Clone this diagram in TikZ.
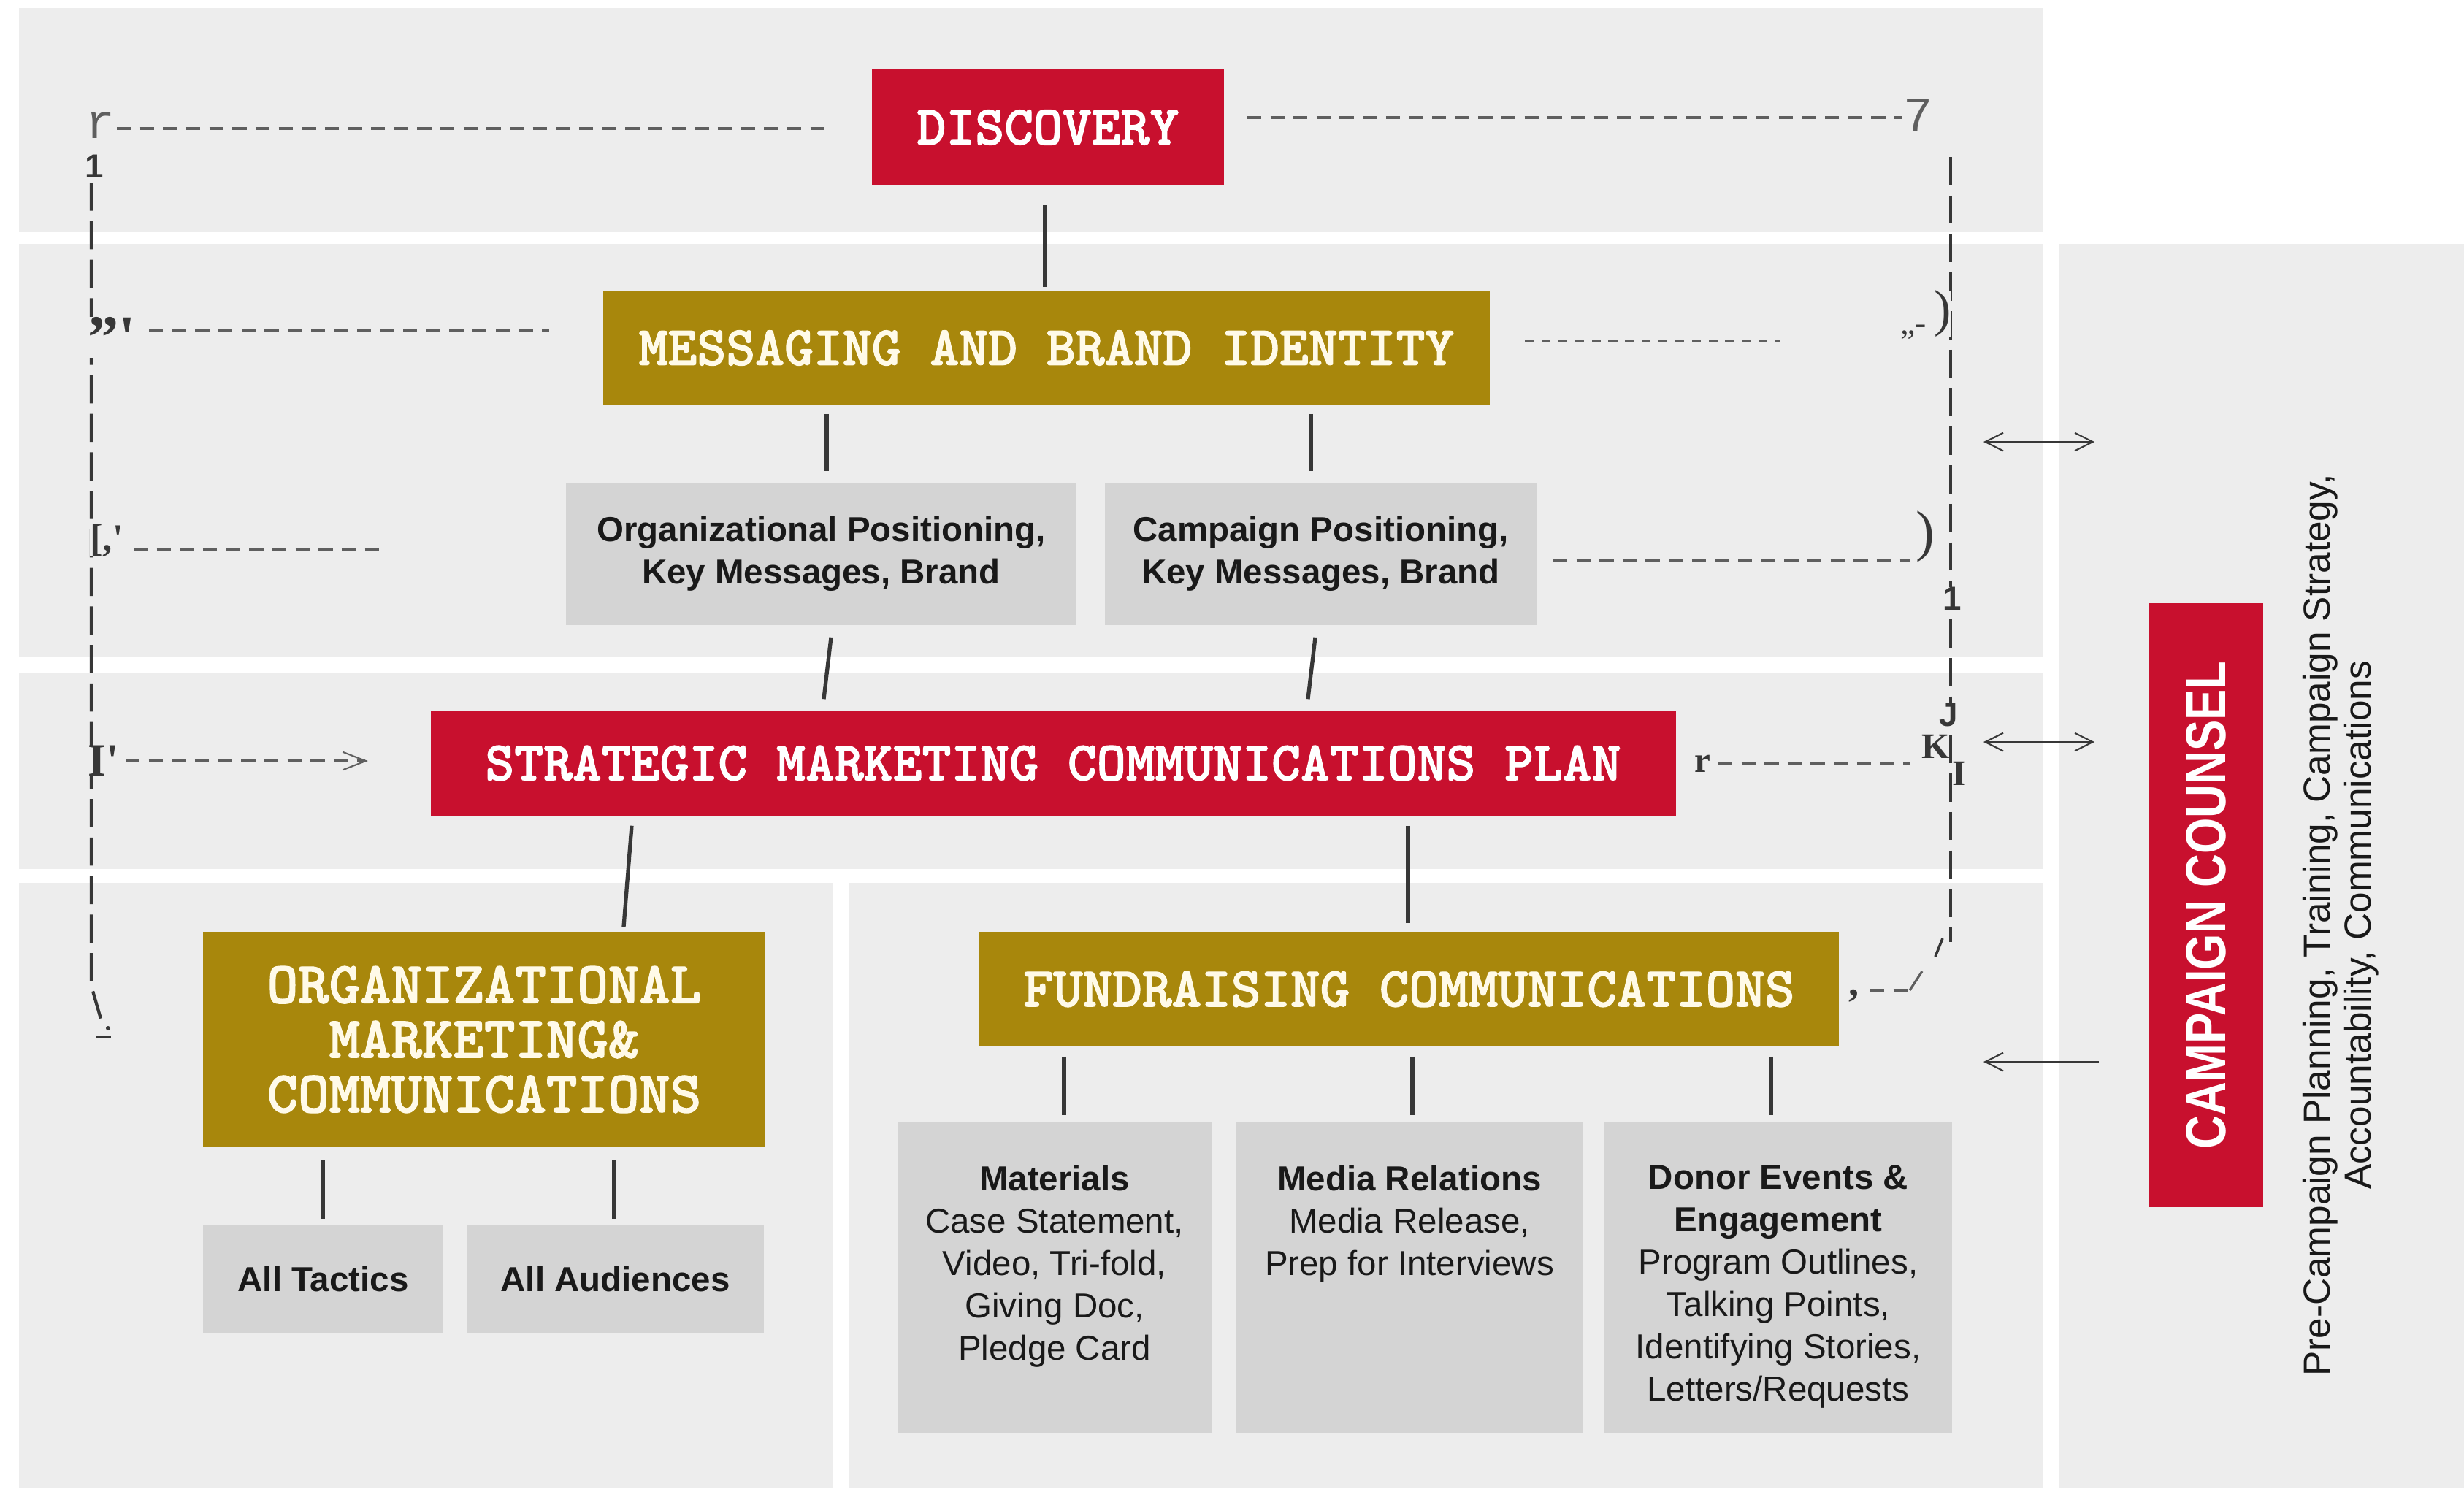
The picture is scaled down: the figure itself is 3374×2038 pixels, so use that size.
\documentclass[tikz,border=0pt]{standalone}
\usepackage{fontspec}
\usepackage{graphicx}
\setmainfont{Liberation Sans}
\newfontfamily\slabfont{lmmonolt10-bold.otf}[FakeBold=1.6]
\newfontfamily\glyphfont{Liberation Serif}
\newfontfamily\typefont{Liberation Mono}
\usetikzlibrary{arrows.meta,calc}
\definecolor{panelgray}{RGB}{237,237,237}
\definecolor{boxgray}{RGB}{212,212,212}
\definecolor{crimson}{RGB}{200,16,46}
\definecolor{ochre}{RGB}{168,135,12}
\definecolor{inkgray}{RGB}{95,95,95}
\definecolor{rulegray}{RGB}{55,55,55}
\definecolor{cream}{RGB}{255,250,232}
\begin{document}
\begin{tikzpicture}[x=0.01cm,y=-0.01cm,
  panel/.style={fill=panelgray,draw=none},
  redbox/.style={fill=crimson,draw=none,text=white,inner sep=0pt,align=center,
    font=\slabfont\fontsize{21.6}{23}\selectfont},
  goldbox/.style={fill=ochre,draw=none,text=cream,inner sep=0pt,align=center,
    font=\slabfont\fontsize{21.6}{23}\selectfont},
  graybox/.style={fill=boxgray,draw=none,inner sep=0pt,align=center,text=black!90},
  boxtext/.style={inner sep=0pt,align=center,text=black!90,
    font=\fontsize{13.5}{16.5}\selectfont},
  conn/.style={draw=rulegray,line width=1.5pt},
  dashh/.style={draw=inkgray,line width=0.9pt,dash pattern=on 5.5pt off 3.5pt},
  dashd/.style={draw=inkgray,line width=0.9pt,dash pattern=on 3.5pt off 3pt},
  dashv/.style={draw=rulegray,line width=1.2pt,dash pattern=on 11pt off 4pt},
  glyph/.style={text=rulegray,inner sep=0pt,font=\glyphfont\bfseries\fontsize{16}{16}\selectfont},
  monoglyph/.style={text=inkgray,inner sep=0pt,font=\typefont\fontsize{19}{19}\selectfont},
  sansglyph/.style={text=rulegray,inner sep=0pt,font=\bfseries\fontsize{13}{13}\selectfont},
  link/.style={draw=rulegray,line width=0.8pt},
]
% page and background panels
\fill[white] (0,0) rectangle (3374,2038);
\useasboundingbox (0,0) rectangle (3374,2038);
\fill[panel] (26,11) rectangle (2797,318);
\fill[panel] (26,334) rectangle (2797,900);
\fill[panel] (26,921) rectangle (2797,1190);
\fill[panel] (26,1209) rectangle (1140,2038);
\fill[panel] (1162,1209) rectangle (2797,2038);
\fill[panel] (2819,334) rectangle (3374,2038);

% main boxes
\node[redbox,minimum width=4.82cm,minimum height=1.59cm] (disc) at (1435,174.5) {DISCOVERY};
\node[goldbox,minimum width=12.14cm,minimum height=1.57cm] (msg) at (1433,476.5) {MESSAGING AND BRAND IDENTITY};
\node[graybox,minimum width=6.99cm,minimum height=1.95cm,
  font=\bfseries\fontsize{13.5}{16.5}\selectfont] (orgpos) at (1124.5,758.5)
  {Organizational Positioning,\\Key Messages, Brand};
\node[graybox,minimum width=5.91cm,minimum height=1.95cm,
  font=\bfseries\fontsize{13.5}{16.5}\selectfont] (camppos) at (1808.5,758.5)
  {Campaign Positioning,\\Key Messages, Brand};
\node[redbox,minimum width=17.04cm,minimum height=1.44cm] (smcp) at (1442,1045)
  {STRATEGIC MARKETING COMMUNICATIONS PLAN};
\node[goldbox,minimum width=7.70cm,minimum height=2.95cm,
  font=\slabfont\fontsize{23}{21.3}\selectfont] (orgmkt) at (663,1423.5)
  {ORGANIZATIONAL\\MARKETING\&\\COMMUNICATIONS};
\node[goldbox,minimum width=11.77cm,minimum height=1.57cm,
  font=\slabfont\fontsize{22}{23}\selectfont] (fund) at (1929.5,1354.5)
  {FUNDRAISING COMMUNICATIONS};
\node[graybox,minimum width=3.29cm,minimum height=1.47cm,
  font=\bfseries\fontsize{13.5}{16.5}\selectfont] (tactics) at (442.5,1751.5) {All Tactics};
\node[graybox,minimum width=4.07cm,minimum height=1.47cm,
  font=\bfseries\fontsize{13.5}{16.5}\selectfont] (aud) at (842.5,1751.5) {All Audiences};
\node[graybox,minimum width=4.30cm,minimum height=4.26cm] (mat) at (1444,1749) {};
\node[graybox,minimum width=4.74cm,minimum height=4.26cm] (media) at (1930,1749) {};
\node[graybox,minimum width=4.76cm,minimum height=4.26cm] (donor) at (2435,1749) {};
\node[boxtext,anchor=north] (mattxt) at ($(mat.north)+(0,60)$)
  {{\bfseries Materials}\\Case Statement,\\Video, Tri-fold,\\Giving Doc,\\Pledge Card};
\node[boxtext,anchor=north] (mediatxt) at ($(media.north)+(0,60)$)
  {{\bfseries Media Relations}\\Media Release,\\Prep for Interviews};
\node[boxtext,anchor=north] (donortxt) at ($(donor.north)+(0,60)$)
  {{\bfseries Donor Events \&}\\{\bfseries Engagement}\\Program Outlines,\\Talking Points,\\Identifying Stories,\\Letters/Requests};

% campaign counsel column
\node[fill=crimson,draw=none,inner sep=0pt,minimum width=1.57cm,minimum height=8.27cm] (counsel) at (3020.5,1239.5) {};
\node[rotate=90,text=white,inner sep=0pt,font=\bfseries\fontsize{22}{22}\selectfont] (counseltxt) at (counsel.center)
  {\scalebox{0.82}[1]{CAMPAIGN COUNSEL}};
\node[rotate=90,align=center,inner sep=0pt,text=black!90,font=\fontsize{14.6}{16}\selectfont] (services) at (3205,1267)
  {Pre-Campaign Planning, Training, Campaign Strategy,\\Accountability, Communications};

% solid connectors
\draw[conn] ($(disc.south)+(-4,26)$) -- ($(msg.north)+(-2,-4)$);
\draw[conn] ($(orgpos.north |- msg.south)+(7.5,11)$) -- ($(orgpos.north)+(7.5,-15)$);
\draw[conn] ($(camppos.north |- msg.south)+(-13.5,11)$) -- ($(camppos.north)+(-13.5,-15)$);
\draw[conn] ($(orgpos.south)+(13.5,16)$) -- ($(orgpos.south |- smcp.north)+(3.5,-15)$);
\draw[conn] ($(camppos.south)+(-7.5,16)$) -- ($(camppos.south |- smcp.north)+(-17.5,-15)$);
\draw[conn] ($(smcp.south)+(-577,13)$) -- ($(orgmkt.north)+(191,-6)$);
\draw[conn] ($(smcp.south)+(486,13)$) -- ($(fund.north)+(-1.5,-11)$);
\draw[conn] ($(tactics.north |- orgmkt.south)+(0,17)$) -- ($(tactics.north)+(0,-8)$);
\draw[conn] ($(aud.north |- orgmkt.south)+(-1.5,17)$) -- ($(aud.north)+(-1.5,-8)$);
\draw[conn] ($(mat.north |- fund.south)+(13,13)$) -- ($(mat.north)+(13,-8)$);
\draw[conn] ($(media.north |- fund.south)+(4,13)$) -- ($(media.north)+(4,-8)$);
\draw[conn] ($(donor.north |- fund.south)+(-10,13)$) -- ($(donor.north)+(-10,-8)$);

% left dashed bracket
\coordinate (lefttop) at (160,176);
\coordinate (leftmsg) at (204,452);
\coordinate (leftpos) at (183,753);
\coordinate (leftplan) at (172,1042);
\draw[dashv] (125,250) -- (125,1350) -- (138,1395);
\draw[rulegray,line width=1pt] (132,1420) -- (152,1420);
\fill[rulegray] (148,1408) circle (3);
\draw[dashh] (lefttop) -- ($(disc.west)+(-58,1.5)$);
\draw[dashh] (leftmsg) -- ($(msg.west)+(-73,-24.5)$);
\draw[dashh] (leftpos) -- ($(orgpos.west)+(-245,-5.5)$);
\draw[dashh,-{Straight Barb[length=9pt,width=7pt,line width=0.6pt]}] (leftplan) -- ($(smcp.west)+(-85,-3)$);
\node[monoglyph] (gr1) at (138,172) {r};
\node[sansglyph] (g1) at (129,228) {1};
\node[glyph,fill=panelgray,font=\glyphfont\bfseries\fontsize{24}{24}\selectfont] (g2) at (153,462) {”'};
\node[glyph,fill=panelgray,font=\glyphfont\bfseries\fontsize{15}{15}\selectfont] (g3) at (146,740) {[,'};
\node[glyph,fill=panelgray,font=\glyphfont\bfseries\fontsize{18}{18}\selectfont] (g4) at (142,1042) {I'};

% right dashed bracket
\coordinate (rightvtop) at (2671,215);
\coordinate (rightvbot) at (2671,1290);
\draw[dashv] (rightvtop) -- (rightvbot);
\draw[dashh] ($(disc.east)+(31,-13.5)$) -- (2605,161);
\draw[dashd] ($(msg.east)+(47,-9.5)$) -- (2438,467);
\draw[dashh] ($(camppos.east)+(22,9.5)$) -- (2615,768);
\draw[dashh] ($(smcp.east)+(26,1)$) -- (2615,1046);
\draw[dashh] ($(fund.east)+(42,1.5)$) -- (2615,1356);
\draw[inkgray,line width=0.9pt] (2615,1356) -- (2632,1330);
\draw[rulegray,line width=1pt] (2650,1310) -- (2660,1285);
\node[monoglyph] (g7) at (2627,157) {7};
\node[glyph,font=\glyphfont\fontsize{13}{13}\selectfont] (g8) at (2620,455) {„-};
\node[glyph,fill=panelgray,font=\glyphfont\fontsize{20}{20}\selectfont] (g9) at (2660,430) {)};
\node[glyph,fill=panelgray,font=\glyphfont\fontsize{22}{22}\selectfont] (g10) at (2636,735) {)};
\node[sansglyph,fill=panelgray] (g11) at (2673,820) {1};
\node[sansglyph,fill=panelgray] (g12) at (2668,979) {J};
\node[glyph,font=\glyphfont\bfseries\fontsize{14}{14}\selectfont] (g13) at (2651,1022) {K};
\node[glyph,fill=panelgray,font=\glyphfont\bfseries\fontsize{14}{14}\selectfont] (g14) at (2683,1059) {I};
\node[glyph,fill=panelgray,font=\glyphfont\bfseries\fontsize{14}{14}\selectfont] (g15) at (2331,1046) {r};
\node[glyph,font=\glyphfont\bfseries\fontsize{16}{16}\selectfont] (g16) at (2539,1364) {,};

% links to campaign counsel
\coordinate (ar1a) at (2716,605);
\coordinate (ar1b) at (2868,605);
\coordinate (ar2a) at (2716,1016);
\coordinate (ar2b) at (2868,1016);
\coordinate (ar3a) at (2874,1454);
\coordinate (ar3b) at (2716,1454);
\draw[link,{Straight Barb[length=7pt,width=7pt,line width=0.6pt]}-{Straight Barb[length=7pt,width=7pt,line width=0.6pt]}] (ar1a) -- (ar1b);
\draw[link,{Straight Barb[length=7pt,width=7pt,line width=0.6pt]}-{Straight Barb[length=7pt,width=7pt,line width=0.6pt]}] (ar2a) -- (ar2b);
\draw[link,-{Straight Barb[length=7pt,width=7pt,line width=0.6pt]}] (ar3a) -- (ar3b);
\end{tikzpicture}
\end{document}
